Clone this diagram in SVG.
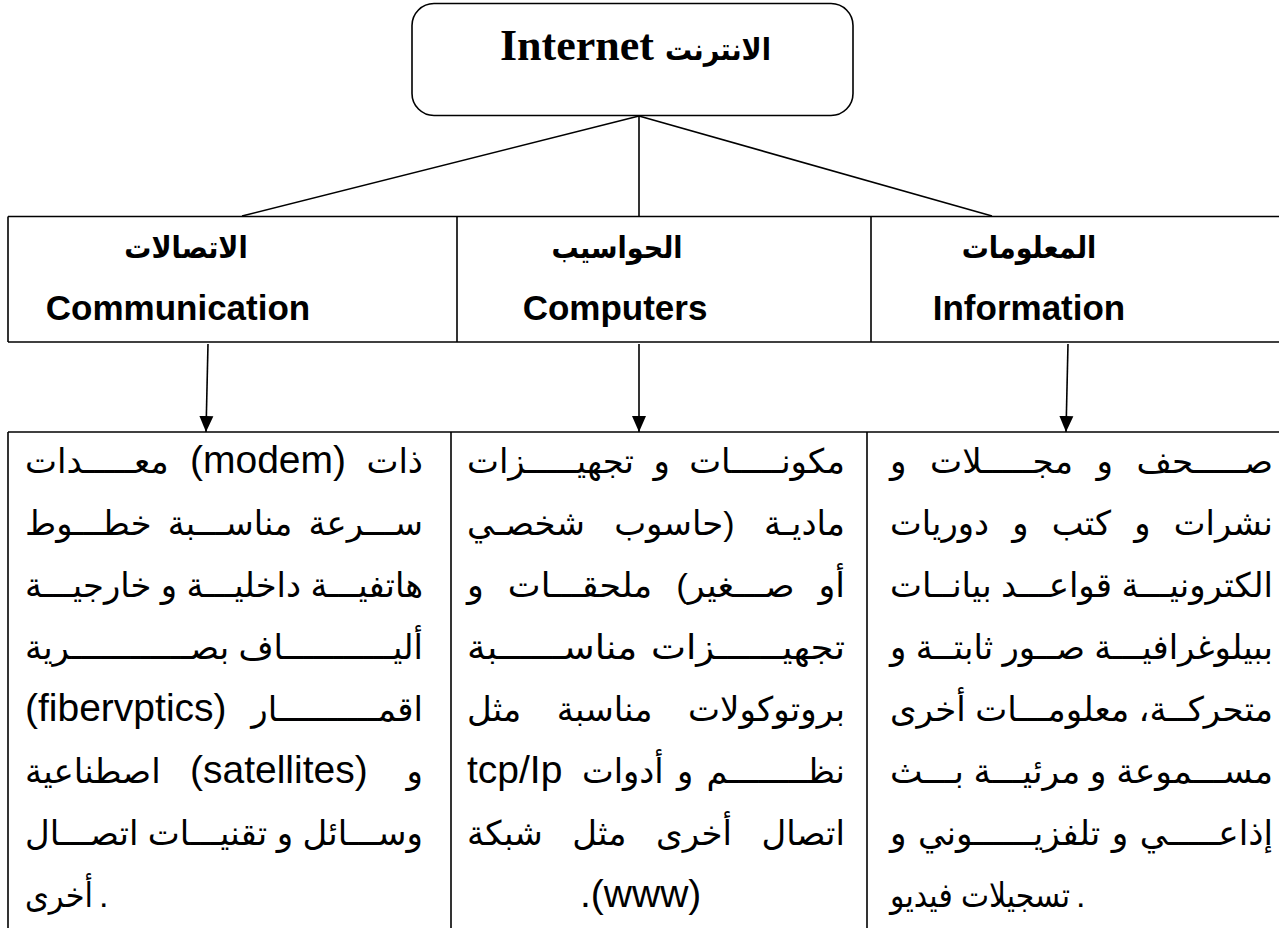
<svg xmlns="http://www.w3.org/2000/svg" width="1279" height="928" viewBox="0 0 1279 928">
  <defs>
    <marker id="arrow" markerUnits="userSpaceOnUse" markerWidth="16" markerHeight="18" refX="16" refY="8" orient="auto">
      <path d="M0,1 L16,8 L0,15 z" fill="#000"/>
    </marker>
    <style>
      .frame { fill: none; stroke: #000; stroke-width: 1.6; }
      .conn { fill: none; stroke: #000; stroke-width: 1.6; }
      .title { font-family: "Liberation Serif", serif; font-weight: bold; font-size: 44px; fill: #000; }
      .title-ar { font-family: "DejaVu Sans Condensed", "DejaVu Sans", sans-serif; font-stretch: condensed; font-size: 30px; }
      .head-ar { font-family: "DejaVu Sans Condensed", "DejaVu Sans", sans-serif; font-stretch: condensed; font-weight: bold; font-size: 30px; fill: #000; text-anchor: middle; }
      .head-en { font-family: "Liberation Sans", "DejaVu Sans", sans-serif; font-weight: bold; font-size: 35px; fill: #000; text-anchor: middle; }
      .body { font-family: "Liberation Sans", "DejaVu Sans", sans-serif; font-size: 34px; fill: #000; }
      .body text { text-anchor: end; }
      .body text.s { text-anchor: start; }
      .body .lat { font-size: 39px; }
    </style>
  </defs>
  <rect width="1279" height="928" fill="#fff"/>

  <!-- root node -->
  <g id="internet">
    <rect class="frame" x="412" y="3.5" width="441" height="112" rx="22" ry="22"/>
    <text class="title" x="500" y="60">Internet <tspan class="title-ar">الانترنت</tspan></text>
  </g>

  <!-- category row -->
  <g id="categories">
    <line class="frame" x1="8" y1="216.5" x2="1280" y2="216.5"/>
    <line class="frame" x1="8" y1="342" x2="1280" y2="342"/>
    <line class="frame" x1="8" y1="216.5" x2="8" y2="342"/>
    <line class="frame" x1="457" y1="216.5" x2="457" y2="342"/>
    <line class="frame" x1="871" y1="216.5" x2="871" y2="342"/>
  </g>
  <g id="communication">
    <text class="head-ar" x="186" y="258">الاتصالات</text>
    <text class="head-en" x="178" y="320">Communication</text>
  </g>
  <g id="computers">
    <text class="head-ar" x="617" y="258">الحواسيب</text>
    <text class="head-en" x="615" y="320">Computers</text>
  </g>
  <g id="information">
    <text class="head-ar" x="1029" y="258">المعلومات</text>
    <text class="head-en" x="1029" y="320">Information</text>
  </g>

  <!-- detail row -->
  <g id="details">
    <line class="frame" x1="8" y1="432" x2="1280" y2="432"/>
    <line class="frame" x1="8" y1="432" x2="8" y2="929"/>
    <line class="frame" x1="451" y1="432" x2="451" y2="929"/>
    <line class="frame" x1="867" y1="432" x2="867" y2="929"/>
  </g>

  <!-- justified lines: kashida (tatweel) stretches words, textLength fits each line to its column -->
  <g id="communication-detail" class="body">
    <text class="s" x="25" y="473">مع&#x640;&#x640;&#x640;&#x640;&#x640;دات</text>
    <text class="s lat" x="190" y="473">(modem)</text>
    <text x="423" y="473">ذات</text>
    <text x="423" y="535" style="word-spacing:7px" textLength="398" lengthAdjust="spacingAndGlyphs">س&#x640;&#x640;&#x640;رعة مناس&#x640;&#x640;&#x640;بة خط&#x640;&#x640;&#x640;وط</text>
    <text x="423" y="597" textLength="398" lengthAdjust="spacingAndGlyphs">هاتفي&#x640;&#x640;&#x640;ة داخلي&#x640;&#x640;&#x640;ة و خارجي&#x640;&#x640;&#x640;ة</text>
    <text x="423" y="659" textLength="398" lengthAdjust="spacingAndGlyphs">ألي&#x640;&#x640;&#x640;&#x640;&#x640;&#x640;&#x640;&#x640;&#x640;&#x640;&#x640;اف بص&#x640;&#x640;&#x640;&#x640;&#x640;&#x640;&#x640;&#x640;&#x640;&#x640;&#x640;&#x640;رية</text>
    <text class="s lat" x="25" y="721">(fibervptics)</text>
    <text x="423" y="721">اقم&#x640;&#x640;&#x640;&#x640;&#x640;&#x640;&#x640;&#x640;&#x640;&#x640;ار</text>
    <text class="s" x="25" y="783">اصطناعية</text>
    <text class="s lat" x="190" y="783">(satellites)</text>
    <text x="423" y="783">و</text>
    <text x="423" y="845" textLength="398" lengthAdjust="spacingAndGlyphs">وس&#x640;&#x640;&#x640;ائل و تقني&#x640;&#x640;&#x640;ات اتص&#x640;&#x640;&#x640;ال</text>
    <text class="s" x="25" y="907" textLength="68" lengthAdjust="spacingAndGlyphs">أخرى</text>
    <text class="s" x="99" y="907">.</text>
  </g>

  <g id="computers-detail" class="body">
    <text x="845" y="473" style="word-spacing:10px" textLength="378" lengthAdjust="spacingAndGlyphs">مكون&#x640;&#x640;&#x640;&#x640;&#x640;ات و تجهي&#x640;&#x640;&#x640;&#x640;&#x640;زات</text>
    <text x="845" y="535" style="word-spacing:20px" textLength="378" lengthAdjust="spacingAndGlyphs">مادي&#x640;ة (حاسوب شخص&#x640;ي</text>
    <text x="845" y="597" style="word-spacing:14px" textLength="378" lengthAdjust="spacingAndGlyphs">أو ص&#x640;&#x640;&#x640;غير) ملحق&#x640;&#x640;&#x640;ات و</text>
    <text x="845" y="659" style="word-spacing:3px" textLength="378" lengthAdjust="spacingAndGlyphs">تجهي&#x640;&#x640;&#x640;&#x640;&#x640;&#x640;زات مناس&#x640;&#x640;&#x640;&#x640;&#x640;&#x640;بة</text>
    <text x="845" y="721" style="word-spacing:26px" textLength="378" lengthAdjust="spacingAndGlyphs">بروتوكولات مناسبة مثل</text>
    <text class="s lat" x="467" y="783">tcp/Ip</text>
    <text x="845" y="783" style="word-spacing:4px" textLength="263" lengthAdjust="spacingAndGlyphs">نظ&#x640;&#x640;&#x640;&#x640;&#x640;&#x640;&#x640;&#x640;م و أدوات</text>
    <text x="845" y="845" style="word-spacing:20px" textLength="378" lengthAdjust="spacingAndGlyphs">اتصال أخرى مثل شبكة</text>
    <text class="s lat" x="580" y="907">.(www)</text>
  </g>

  <g id="information-detail" class="body">
    <text x="1273" y="473" style="word-spacing:14px" textLength="383" lengthAdjust="spacingAndGlyphs">ص&#x640;&#x640;&#x640;&#x640;&#x640;حف و مج&#x640;&#x640;&#x640;&#x640;&#x640;لات و</text>
    <text x="1273" y="535" style="word-spacing:14px" textLength="383" lengthAdjust="spacingAndGlyphs">نشرات و كتب و دوريات</text>
    <text x="1273" y="597" textLength="383" lengthAdjust="spacingAndGlyphs">الكتروني&#x640;&#x640;&#x640;ة قواع&#x640;&#x640;&#x640;د بيان&#x640;&#x640;ات</text>
    <text x="1273" y="659" textLength="383" lengthAdjust="spacingAndGlyphs">ببيلوغرافي&#x640;&#x640;&#x640;ة ص&#x640;&#x640;ور ثابت&#x640;&#x640;ة و</text>
    <text x="1273" y="721" textLength="383" lengthAdjust="spacingAndGlyphs">متحرك&#x640;&#x640;ة، معلوم&#x640;&#x640;&#x640;ات أخرى</text>
    <text x="1273" y="783" textLength="383" lengthAdjust="spacingAndGlyphs">مس&#x640;&#x640;&#x640;موعة و مرئي&#x640;&#x640;&#x640;ة ب&#x640;&#x640;&#x640;ث</text>
    <text x="1273" y="845" style="word-spacing:2px" textLength="383" lengthAdjust="spacingAndGlyphs">إذاع&#x640;&#x640;&#x640;&#x640;&#x640;ي و تلفزي&#x640;&#x640;&#x640;&#x640;&#x640;&#x640;وني و</text>
    <text class="s" x="890" y="907" textLength="180" lengthAdjust="spacingAndGlyphs">تسجيلات فيديو</text>
    <text class="s" x="1076" y="907">.</text>
  </g>

  <!-- connectors -->
  <g id="connectors">
    <line class="conn" x1="639" y1="116" x2="242" y2="216"/>
    <line class="conn" x1="639" y1="116" x2="639" y2="216"/>
    <line class="conn" x1="639" y1="116" x2="992" y2="216"/>
    <line class="conn" x1="208" y1="344" x2="206" y2="432" marker-end="url(#arrow)"/>
    <line class="conn" x1="639" y1="344" x2="639" y2="432" marker-end="url(#arrow)"/>
    <line class="conn" x1="1068" y1="344" x2="1066" y2="432" marker-end="url(#arrow)"/>
  </g>
</svg>
